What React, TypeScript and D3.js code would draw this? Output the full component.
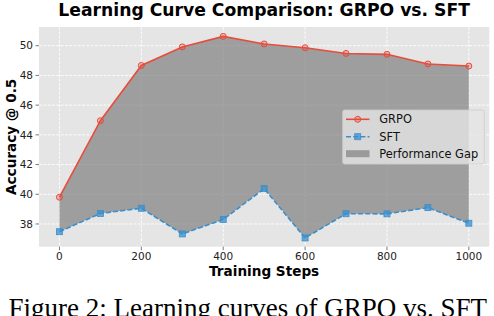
import * as d3 from 'd3';

const steps = [0, 100, 200, 300, 400, 500, 600, 700, 800, 900, 1000];
const grpo = [39.8, 44.95, 48.67, 49.92, 50.63, 50.12, 49.86, 49.48, 49.42, 48.77, 48.63];
const sft = [37.48, 38.71, 39.06, 37.33, 38.3, 40.38, 37.06, 38.69, 38.68, 39.1, 38.05];
const xTicks = [0, 200, 400, 600, 800, 1000];
const yTicks = [38, 40, 42, 44, 46, 48, 50];
const legendLabels = ['GRPO', 'SFT', 'Performance Gap'];

const W = 494;
const H = 316;
const PLOT = { left: 39, right: 489.3, top: 27, bottom: 246.7 };
const FONT = 'DejaVu Sans, sans-serif';
const RED = '#E74C3C';
const BLUE = '#3A8FCC';

type Row = { s: number; g: number; f: number };

export default function App() {
  const x = d3.scaleLinear().domain([-50, 1050]).range([PLOT.left, PLOT.right]);
  const y = d3.scaleLinear().domain([36.47, 51.26]).range([PLOT.bottom, PLOT.top]);

  const rows: Row[] = steps.map((s, i) => ({ s, g: grpo[i], f: sft[i] }));

  const area = d3.area<Row>()
    .x(d => x(d.s))
    .y0(d => y(d.f))
    .y1(d => y(d.g));
  const grpoLine = d3.line<Row>().x(d => x(d.s)).y(d => y(d.g));
  const sftLine = d3.line<Row>().x(d => x(d.s)).y(d => y(d.f));

  const cx = (PLOT.left + PLOT.right) / 2;
  const cy = (PLOT.top + PLOT.bottom) / 2;

  // legend box
  const lg = { x: 342.7, y: 110, w: 141.6, h: 54 };
  const legendRows = [119.3, 136.7, 153.7];

  return (
    <svg width={W} height={H} style={{ position: 'absolute', left: 0, top: 0, background: '#fff' }}>
      {/* plot background */}
      <rect x={PLOT.left} y={PLOT.top} width={PLOT.right - PLOT.left} height={PLOT.bottom - PLOT.top} fill="#E5E5E5" />

      {/* grid */}
      {yTicks.map(t => (
        <line key={'gy' + t} x1={PLOT.left} x2={PLOT.right} y1={y(t)} y2={y(t)}
          stroke="#fff" strokeWidth={1} strokeDasharray="3,1.3" opacity={0.9} />
      ))}
      {xTicks.map(t => (
        <line key={'gx' + t} x1={x(t)} x2={x(t)} y1={PLOT.top} y2={PLOT.bottom}
          stroke="#fff" strokeWidth={1} strokeDasharray="3,1.3" opacity={0.9} />
      ))}

      {/* performance gap */}
      <path d={area(rows) ?? ''} fill="#808080" fillOpacity={0.7} />

      {/* SFT */}
      <path d={sftLine(rows) ?? ''} fill="none" stroke={BLUE} strokeWidth={1.6} strokeDasharray="5,2.2" />
      {rows.map(d => (
        <rect key={'fs' + d.s} x={x(d.s) - 3} y={y(d.f) - 3} width={6} height={6}
          fill={BLUE} fillOpacity={0.75} stroke={BLUE} strokeWidth={0.8} />
      ))}

      {/* GRPO */}
      <path d={grpoLine(rows) ?? ''} fill="none" stroke={RED} strokeWidth={1.6} />
      {rows.map(d => (
        <circle key={'gc' + d.s} cx={x(d.s)} cy={y(d.g)} r={3}
          fill={RED} fillOpacity={0.3} stroke={RED} strokeWidth={1} />
      ))}

      {/* ticks */}
      {yTicks.map(t => (
        <g key={'ty' + t}>
          <line x1={PLOT.left - 3.5} x2={PLOT.left} y1={y(t)} y2={y(t)} stroke="#555" strokeWidth={0.8} />
          <text x={PLOT.left - 6} y={y(t)} dy="0.35em" textAnchor="end" fontFamily={FONT} fontSize={10.5} fill="#222">{t}</text>
        </g>
      ))}
      {xTicks.map(t => (
        <g key={'tx' + t}>
          <line x1={x(t)} x2={x(t)} y1={PLOT.bottom} y2={PLOT.bottom + 3.5} stroke="#555" strokeWidth={0.8} />
          <text x={x(t)} y={260.3} textAnchor="middle" fontFamily={FONT} fontSize={10.5} fill="#222">{t}</text>
        </g>
      ))}

      {/* labels */}
      <text x={cx} y={15.5} textAnchor="middle" fontFamily={FONT} fontWeight="bold" fontSize={17.2} fill="#000">
        Learning Curve Comparison: GRPO vs. SFT
      </text>
      <text x={cx} y={276} textAnchor="middle" fontFamily={FONT} fontWeight="bold" fontSize={13.6} fill="#000">
        Training Steps
      </text>
      <text transform={`translate(15.5,${cy}) rotate(-90)`} textAnchor="middle" fontFamily={FONT} fontWeight="bold" fontSize={13.6} fill="#000">
        Accuracy @ 0.5
      </text>

      {/* legend */}
      <rect x={lg.x} y={lg.y} width={lg.w} height={lg.h} rx={2} fill="#E5E5E5" fillOpacity={0.8} stroke="#CCCCCC" strokeWidth={0.8} />
      <line x1={346} x2={369.5} y1={legendRows[0]} y2={legendRows[0]} stroke={RED} strokeWidth={1.6} />
      <circle cx={357.7} cy={legendRows[0]} r={3} fill={RED} fillOpacity={0.3} stroke={RED} strokeWidth={1} />
      <line x1={346} x2={369.5} y1={legendRows[1]} y2={legendRows[1]} stroke={BLUE} strokeWidth={1.6} strokeDasharray="5,2.2" />
      <rect x={354.7} y={legendRows[1] - 3} width={6} height={6} fill={BLUE} fillOpacity={0.75} stroke={BLUE} strokeWidth={0.8} />
      <rect x={346} y={legendRows[2] - 3.5} width={23.5} height={7} fill="#808080" fillOpacity={0.7} />
      {legendLabels.map((t, i) => (
        <text key={t} x={379.3} y={legendRows[i]} dy="0.35em" fontFamily={FONT} fontSize={11.4} fill="#111">{t}</text>
      ))}

      {/* caption */}
      <text x={8.5} y={317} fontFamily="Liberation Serif, Times New Roman, serif" fontSize={27} fill="#000">
        Figure 2: Learning curves of GRPO vs. SFT
      </text>
    </svg>
  );
}
